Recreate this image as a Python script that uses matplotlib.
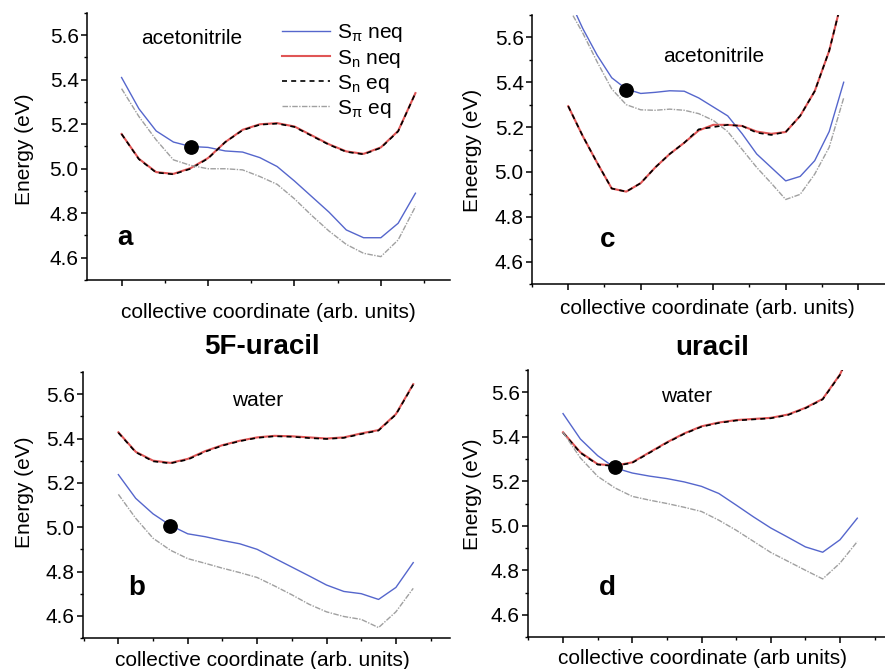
import matplotlib
matplotlib.use("Agg")
import matplotlib.pyplot as plt
import numpy as np
from matplotlib.ticker import MultipleLocator

plt.rcParams['font.family'] = ['Liberation Sans', 'DejaVu Sans']
plt.rcParams['mathtext.fontset'] = 'custom'
plt.rcParams['mathtext.rm'] = 'Liberation Sans'
plt.rcParams['mathtext.it'] = 'Liberation Sans'

# panel a : 5F-uracil, acetonitrile
a_x = [0, 0.2, 0.4, 0.6, 0.8, 1.0, 1.2, 1.4, 1.6, 1.8, 2.0, 2.2, 2.4, 2.6, 2.8, 3.0, 3.2, 3.4]
a_spi_neq = [5.41, 5.27, 5.17, 5.12, 5.10, 5.096, 5.08, 5.075, 5.05, 5.01, 4.945, 4.875, 4.805, 4.725, 4.69, 4.69, 4.755, 4.89]
a_sn_neq = [5.156, 5.045, 4.985, 4.977, 5.003, 5.048, 5.12, 5.175, 5.20, 5.205, 5.19, 5.15, 5.11, 5.078, 5.067, 5.096, 5.17, 5.34]
a_sn_eq = [5.156, 5.043, 4.983, 4.975, 5.0, 5.046, 5.12, 5.173, 5.198, 5.203, 5.188, 5.148, 5.108, 5.076, 5.065, 5.094, 5.168, 5.34]
a_spi_eq = [5.36, 5.235, 5.13, 5.04, 5.015, 5.0, 5.0, 4.995, 4.965, 4.93, 4.865, 4.79, 4.72, 4.66, 4.62, 4.605, 4.68, 4.83]
a_dot = (0.8, 5.096)

# panel c : uracil, acetonitrile
c_x = [0, 0.2, 0.4, 0.6, 0.8, 1.0, 1.2, 1.4, 1.6, 1.8, 2.0, 2.2, 2.4, 2.6, 2.8, 3.0, 3.2, 3.4, 3.6, 3.8]
c_spi_neq = [5.78, 5.64, 5.52, 5.42, 5.37, 5.35, 5.355, 5.362, 5.36, 5.33, 5.29, 5.25, 5.17, 5.08, 5.02, 4.96, 4.98, 5.05, 5.18, 5.40]
c_sn_neq = [5.293, 5.16, 5.04, 4.926, 4.912, 4.95, 5.02, 5.08, 5.13, 5.185, 5.21, 5.21, 5.205, 5.18, 5.17, 5.178, 5.25, 5.36, 5.54, 5.80]
c_sn_eq = [5.293, 5.16, 5.04, 4.926, 4.912, 4.95, 5.02, 5.08, 5.13, 5.19, 5.20, 5.21, 5.205, 5.175, 5.165, 5.178, 5.25, 5.36, 5.54, 5.80]
c_spi_eq = [5.735, 5.62, 5.49, 5.37, 5.30, 5.277, 5.275, 5.28, 5.275, 5.26, 5.23, 5.18, 5.10, 5.02, 4.95, 4.877, 4.90, 4.99, 5.11, 5.33]
c_dot = (0.8, 5.367)

# panel b : 5F-uracil, water
b_x = [0, 0.25, 0.5, 0.75, 1.0, 1.25, 1.5, 1.75, 2.0, 2.25, 2.5, 2.75, 3.0, 3.25, 3.5, 3.75, 4.0, 4.25]
b_spi_neq = [5.237, 5.13, 5.06, 5.008, 4.97, 4.957, 4.94, 4.925, 4.90, 4.86, 4.82, 4.78, 4.739, 4.71, 4.70, 4.674, 4.728, 4.84]
b_sn_neq = [5.428, 5.34, 5.30, 5.29, 5.308, 5.343, 5.37, 5.39, 5.405, 5.412, 5.41, 5.405, 5.40, 5.405, 5.423, 5.438, 5.51, 5.645]
b_sn_eq = [5.426, 5.338, 5.297, 5.288, 5.305, 5.34, 5.368, 5.388, 5.403, 5.41, 5.408, 5.402, 5.398, 5.403, 5.42, 5.436, 5.508, 5.643]
b_spi_eq = [5.148, 5.04, 4.95, 4.896, 4.858, 4.837, 4.815, 4.795, 4.773, 4.735, 4.695, 4.652, 4.618, 4.597, 4.584, 4.547, 4.618, 4.724]
b_dot = (0.75, 5.005)

# panel d : uracil, water
d_x = [0, 0.25, 0.5, 0.75, 1.0, 1.25, 1.5, 1.75, 2.0, 2.25, 2.5, 2.75, 3.0, 3.25, 3.5, 3.75, 4.0, 4.25]
d_spi_neq = [5.504, 5.39, 5.315, 5.26, 5.237, 5.223, 5.212, 5.197, 5.177, 5.145, 5.093, 5.04, 4.99, 4.948, 4.905, 4.881, 4.937, 5.034]
d_sn_neq = [5.42, 5.33, 5.277, 5.27, 5.285, 5.33, 5.375, 5.415, 5.447, 5.464, 5.475, 5.48, 5.485, 5.50, 5.53, 5.57, 5.68, 5.85]
d_sn_eq = [5.418, 5.328, 5.275, 5.268, 5.283, 5.328, 5.373, 5.413, 5.445, 5.462, 5.473, 5.478, 5.483, 5.498, 5.528, 5.568, 5.678, 5.85]
d_spi_eq = [5.42, 5.305, 5.222, 5.17, 5.132, 5.115, 5.10, 5.083, 5.064, 5.025, 4.98, 4.93, 4.88, 4.84, 4.80, 4.761, 4.832, 4.929]
d_dot = (0.75, 5.262)

blue = '#5566cc'
red = '#e05555'
gray = '#a0a0a0'

W, H = 885, 669
fig = plt.figure(figsize=(8.85, 6.69), dpi=100)


def make_ax(left, top, right, bottom, xlim):
    ax = fig.add_axes([left / W, 1 - bottom / H, (right - left) / W, (bottom - top) / H])
    ax.set_xlim(*xlim)
    ax.set_ylim(4.5, 5.7)
    for s in ['top', 'right']:
        ax.spines[s].set_visible(False)
    for s in ['left', 'bottom']:
        ax.spines[s].set_linewidth(1.1)
    ax.yaxis.set_major_locator(MultipleLocator(0.2))
    ax.yaxis.set_minor_locator(MultipleLocator(0.1))
    ax.xaxis.set_major_locator(MultipleLocator(1))
    ax.xaxis.set_minor_locator(MultipleLocator(0.5))
    ax.set_xticklabels([])
    ax.tick_params(which='major', direction='out', length=4, width=1.1, labelsize=15, pad=2)
    ax.tick_params(which='minor', direction='out', length=2.5, width=1.0)
    ax.yaxis.set_major_formatter(matplotlib.ticker.FormatStrFormatter('%.1f'))
    return ax


def draw(ax, x, spi_neq, sn_neq, sn_eq, spi_eq, dot):
    l1, = ax.plot(x, spi_neq, color=blue, lw=1.0, label=r'S$_\pi$ neq')
    l2, = ax.plot(x, sn_neq, color=red, lw=1.5, label=r'S$_\mathrm{n}$ neq')
    l3, = ax.plot(x, sn_eq, color='black', lw=1.2, ls=(0, (3, 2.5)), label=r'S$_\mathrm{n}$ eq')
    l4, = ax.plot(x, spi_eq, color=gray, lw=1.0, ls=(0, (4, 1, 1, 1)), label=r'S$_\pi$ eq')
    ax.plot([dot[0]], [dot[1]], 'o', color='black', ms=9.6, zorder=5)
    return [l1, l2, l3, l4]


ax_a = make_ax(87, 13, 450, 280, (-0.4, 3.8))
handles = draw(ax_a, a_x, a_spi_neq, a_sn_neq, a_sn_eq, a_spi_eq, a_dot)
ax_a.text(0.81, 5.585, 'acetonitrile', fontsize=15, ha='center', va='center')
ax_a.text(0.04, 4.69, 'a', fontsize=20, fontweight='bold', ha='center', va='center')
ax_a.legend(handles=handles, loc='upper left', bbox_to_anchor=(272 / W, 1 - 12 / H),
            bbox_transform=fig.transFigure, frameon=False, fontsize=15,
            handlelength=2.3, handletextpad=0.3, labelspacing=0.15, borderpad=0)

ax_c = make_ax(532, 15, 885, 284, (-0.5, 4.37))
draw(ax_c, c_x, c_spi_neq, c_sn_neq, c_sn_eq, c_spi_eq, c_dot)
ax_c.text(2.0, 5.514, 'acetonitrile', fontsize=15, ha='center', va='center')
ax_c.text(0.55, 4.696, 'c', fontsize=20, fontweight='bold', ha='center', va='center')

ax_b = make_ax(83, 372, 450, 638, (-0.51, 4.78))
draw(ax_b, b_x, b_spi_neq, b_sn_neq, b_sn_eq, b_spi_eq, b_dot)
ax_b.text(2.0, 5.57, 'water', fontsize=15, ha='center', va='center')
ax_b.text(0.27, 4.725, 'b', fontsize=20, fontweight='bold', ha='center', va='center')

ax_d = make_ax(528, 370, 885, 637, (-0.506, 4.65))
draw(ax_d, d_x, d_spi_neq, d_sn_neq, d_sn_eq, d_spi_eq, d_dot)
ax_d.text(1.79, 5.58, 'water', fontsize=15, ha='center', va='center')
ax_d.text(0.64, 4.72, 'd', fontsize=20, fontweight='bold', ha='center', va='center')


def ftext(x, y, s, **kw):
    fig.text(x / W, 1 - y / H, s, ha='center', va='center', **kw)


ftext(268, 312, 'collective coordinate (arb. units)', fontsize=15)
ftext(707, 309, 'collective coordinate (arb. units)', fontsize=15)
ftext(262, 660, 'collective coordinate (arb. units)', fontsize=15)
ftext(703, 658, 'collective coordinate (arb units)', fontsize=15)
ftext(24, 149, 'Energy (eV)', fontsize=15, rotation=90)
ftext(472, 150, 'Eneergy (eV)', fontsize=15, rotation=90)
ftext(25, 492, 'Energy (eV)', fontsize=15, rotation=90)
ftext(472, 494, 'Energy (eV)', fontsize=15, rotation=90)
ftext(262, 347, '5F-uracil', fontsize=20, fontweight='bold')
ftext(712, 348, 'uracil', fontsize=20, fontweight='bold')

fig.savefig('out.png', dpi=100)
